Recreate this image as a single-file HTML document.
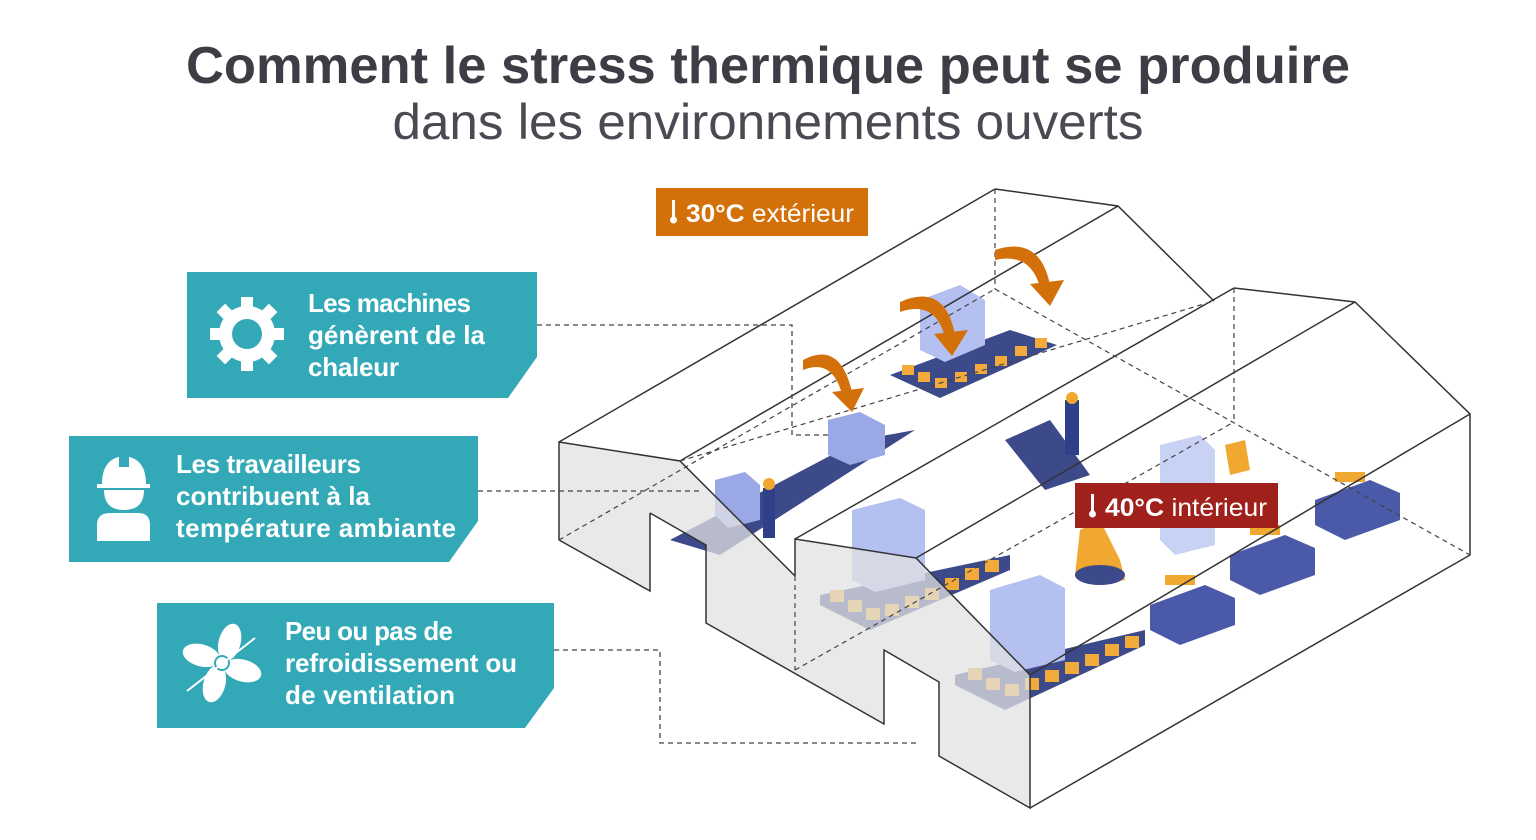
<!DOCTYPE html>
<html><head><meta charset="utf-8"><style>html,body{margin:0;padding:0;background:#fff}svg{display:block}</style></head>
<body>
<svg width="1536" height="840" viewBox="0 0 1536 840" xmlns="http://www.w3.org/2000/svg" font-family="Liberation Sans, sans-serif">
<rect width="1536" height="840" fill="#fff"/>
<text x="768" y="83" text-anchor="middle" font-size="52" font-weight="bold" fill="#3d3d45" textLength="1164" lengthAdjust="spacingAndGlyphs">Comment le stress thermique peut se produire</text>
<text x="768" y="139" text-anchor="middle" font-size="50" fill="#4a4a52" textLength="751" lengthAdjust="spacingAndGlyphs">dans les environnements ouverts</text>

<!-- machines (rough) -->
<g>
 <polygon points="890,375 1010,330 1057,345 940,398" fill="#3d4a8a"/>
 <polygon points="920,300 960,285 985,300 985,345 945,362 920,350" fill="#b3c0f0"/>
 <g fill="#f2aa3a"><rect x="902" y="365" width="12" height="10"/><rect x="918" y="372" width="12" height="10"/><rect x="935" y="378" width="12" height="10"/><rect x="955" y="372" width="12" height="10"/><rect x="975" y="364" width="12" height="10"/><rect x="995" y="356" width="12" height="10"/><rect x="1015" y="346" width="12" height="10"/><rect x="1035" y="338" width="12" height="10"/></g>
 <polygon points="670,540 860,440 915,430 720,555" fill="#3d4a8a"/>
 <polygon points="828,420 860,412 885,425 885,455 850,465 828,455" fill="#9aa8e6"/>
 <polygon points="715,480 745,472 760,485 760,520 728,528 715,515" fill="#9aa8e6"/>
 <polygon points="1005,440 1050,420 1090,475 1045,490" fill="#3d4a8a"/>
 <rect x="1065" y="400" width="14" height="55" fill="#2f3f8a"/><circle cx="1072" cy="398" r="6" fill="#f0a830"/>
 <rect x="763" y="488" width="12" height="50" fill="#2f3f8a"/><circle cx="769" cy="484" r="6" fill="#f0a830"/>
 <polygon points="1160,445 1200,435 1215,450 1215,545 1175,555 1160,540" fill="#c8d2f4"/>
 <polygon points="1225,445 1245,440 1250,470 1230,475" fill="#f0a830"/>
 <polygon points="1080,530 1100,520 1120,560 1125,580 1095,585 1075,575" fill="#f0a830"/>
 <ellipse cx="1100" cy="575" rx="25" ry="10" fill="#3d4a8a"/>
 <polygon points="820,595 1010,555 1010,570 870,630 820,605" fill="#3d4a8a"/>
 <polygon points="852,510 900,498 925,510 925,580 875,592 852,580" fill="#b3c0f0"/>
 <g fill="#f2aa3a"><rect x="830" y="590" width="14" height="12"/><rect x="848" y="600" width="14" height="12"/><rect x="866" y="608" width="14" height="12"/><rect x="885" y="604" width="14" height="12"/><rect x="905" y="596" width="14" height="12"/><rect x="925" y="588" width="14" height="12"/><rect x="945" y="578" width="14" height="12"/><rect x="965" y="568" width="14" height="12"/><rect x="985" y="560" width="14" height="12"/></g>
 <polygon points="955,675 1145,630 1145,645 1005,710 955,685" fill="#3d4a8a"/>
 <polygon points="990,590 1040,575 1065,588 1065,660 1015,672 990,660" fill="#b3c0f0"/>
 <g fill="#f2aa3a"><rect x="968" y="668" width="14" height="12"/><rect x="986" y="678" width="14" height="12"/><rect x="1005" y="684" width="14" height="12"/><rect x="1025" y="678" width="14" height="12"/><rect x="1045" y="670" width="14" height="12"/><rect x="1065" y="662" width="14" height="12"/><rect x="1085" y="654" width="14" height="12"/><rect x="1105" y="644" width="14" height="12"/><rect x="1125" y="636" width="14" height="12"/></g>
 <polygon points="1150,605 1205,585 1235,598 1235,625 1180,645 1150,630" fill="#4a59a8"/>
 <polygon points="1230,555 1285,535 1315,548 1315,575 1260,595 1230,580" fill="#4a59a8"/>
 <polygon points="1315,500 1370,480 1400,493 1400,520 1345,540 1315,525" fill="#4a59a8"/>
 <g fill="#f0a830"><rect x="1165" y="575" width="30" height="10"/><rect x="1250" y="525" width="30" height="10"/><rect x="1335" y="472" width="30" height="10"/></g>
</g>

<!-- building -->
<polygon points="559,442 680,461 795,576 795,539 916,558 1030,675 1030,808 939,756 939,682 884,650 884,724 706,623 706,545 650,513 650,591 559,540" fill="#e2e2e2" fill-opacity="0.75"/>
<g fill="none" stroke="#333" stroke-width="1.5">
 <polyline points="559,540 559,442 680,461 795,576"/>
 <polyline points="650,513 650,591 559,540"/>
 <polyline points="650,513 706,545 706,623 884,724 884,650 939,682 939,756 1030,808 1030,675"/>
 <polyline points="795,576 795,539 916,558 1030,675"/>
 <line x1="559" y1="442" x2="995" y2="189"/>
 <line x1="680" y1="461" x2="1118" y2="206"/>
 <polyline points="995,189 1118,206 1214,301"/>
 <line x1="795" y1="539" x2="1234" y2="288"/>
 <line x1="916" y1="558" x2="1355" y2="302"/>
 <polyline points="1234,288 1355,302 1470,414 1470,555 1030,808"/>
 <line x1="1030" y1="675" x2="1470" y2="414"/>
</g>
<g fill="none" stroke="#444" stroke-width="1.2" stroke-dasharray="5,4">
 <line x1="995" y1="189" x2="995" y2="289"/>
 <line x1="559" y1="540" x2="995" y2="289"/>
 <line x1="995" y1="289" x2="1470" y2="555"/>
 <line x1="1234" y1="288" x2="1234" y2="422"/>
 <line x1="795" y1="670" x2="1234" y2="422"/>
 <line x1="795" y1="576" x2="795" y2="670"/>
 <line x1="680" y1="461" x2="1214" y2="301"/>
</g>

<!-- connectors -->
<g fill="none" stroke="#444" stroke-width="1.3" stroke-dasharray="5,4">
 <polyline points="537,325 792,325 792,435 830,435"/>
 <polyline points="478,491 700,491"/>
 <polyline points="554,650 660,650 660,743 917,743"/>
</g>

<!-- orange arrows -->
<g fill="#d4700a">
 <path d="M803,360 Q840,340 852,392 L842,394 Q832,358 803,370Z"/><polygon points="832,392 864,388 852,412"/>
 <path d="M900,302 Q945,282 955,335 L945,337 Q935,300 900,312Z"/><polygon points="934,334 968,330 952,356"/>
 <path d="M995,250 Q1040,235 1050,285 L1040,287 Q1030,252 995,260Z"/><polygon points="1030,284 1064,280 1050,306"/>
</g>

<!-- temperature labels -->
<rect x="656" y="188" width="212" height="48" fill="#d4700a"/>
<rect x="672" y="200" width="3" height="18" fill="#fff"/><circle cx="673.5" cy="220" r="3.5" fill="#fff"/>
<text x="686" y="222" font-size="25" fill="#fff" textLength="168" lengthAdjust="spacingAndGlyphs"><tspan font-weight="bold">30°C</tspan> extérieur</text>
<rect x="1075" y="483" width="203" height="45" fill="#a0201c"/>
<rect x="1091" y="494" width="3" height="18" fill="#fff"/><circle cx="1092.5" cy="514" r="3.5" fill="#fff"/>
<text x="1105" y="516" font-size="25" fill="#fff" textLength="162" lengthAdjust="spacingAndGlyphs"><tspan font-weight="bold">40°C</tspan> intérieur</text>

<!-- teal boxes -->
<g fill="#33a9b8">
 <polygon points="187,272 537,272 537,357 508,398 187,398"/>
 <polygon points="69,436 478,436 478,521 449,562 69,562"/>
 <polygon points="157,603 554,603 554,688 525,728 157,728"/>
</g>
<g fill="#fff" font-size="26" font-weight="bold" lengthAdjust="spacingAndGlyphs">
 <text x="308" y="312" textLength="163">Les machines</text><text x="308" y="344" textLength="177">génèrent de la</text><text x="308" y="376" textLength="91">chaleur</text>
 <text x="176" y="473" textLength="185">Les travailleurs</text><text x="176" y="505" textLength="194">contribuent à la</text><text x="176" y="537" textLength="280">température ambiante</text>
 <text x="285" y="640" textLength="168">Peu ou pas de</text><text x="285" y="672" textLength="232">refroidissement ou</text><text x="285" y="704" textLength="170">de ventilation</text>
</g>
<!-- gear -->
<g fill="#fff" transform="translate(247,334)">
 <circle r="28"/>
 <g><rect x="-6" y="-37" width="12" height="14"/><rect x="-6" y="23" width="12" height="14"/><rect x="-37" y="-6" width="14" height="12"/><rect x="23" y="-6" width="14" height="12"/></g>
 <g transform="rotate(45)"><rect x="-6" y="-37" width="12" height="14"/><rect x="-6" y="23" width="12" height="14"/><rect x="-37" y="-6" width="14" height="12"/><rect x="23" y="-6" width="14" height="12"/></g>
 <circle r="15" fill="#33a9b8"/>
</g>
<!-- worker -->
<g fill="#fff">
 <path d="M102,484 Q102,458 124,456 Q146,458 146,484Z"/>
 <rect x="97" y="484" width="53" height="4"/>
 <rect x="119" y="455" width="10" height="12" fill="#33a9b8"/>
 <path d="M104,490 L144,490 Q144,510 124,510 Q104,510 104,490Z"/>
 <path d="M97,541 L97,525 Q97,513 110,513 L138,513 Q150,513 150,525 L150,541Z"/>
</g>
<!-- fan -->
<g fill="#fff" transform="translate(222,663)">
 <circle r="9"/>
 <ellipse cx="2" cy="-22" rx="11" ry="19" transform="rotate(15)"/>
 <ellipse cx="2" cy="-22" rx="11" ry="19" transform="rotate(105)"/>
 <ellipse cx="2" cy="-22" rx="11" ry="19" transform="rotate(195)"/>
 <ellipse cx="2" cy="-22" rx="11" ry="19" transform="rotate(285)"/>
 <circle r="7" fill="#fff" stroke="#33a9b8" stroke-width="2"/>
 <line x1="-35" y1="28" x2="33" y2="-25" stroke="#fff" stroke-width="2"/>
</g>
</svg>
</body></html>
